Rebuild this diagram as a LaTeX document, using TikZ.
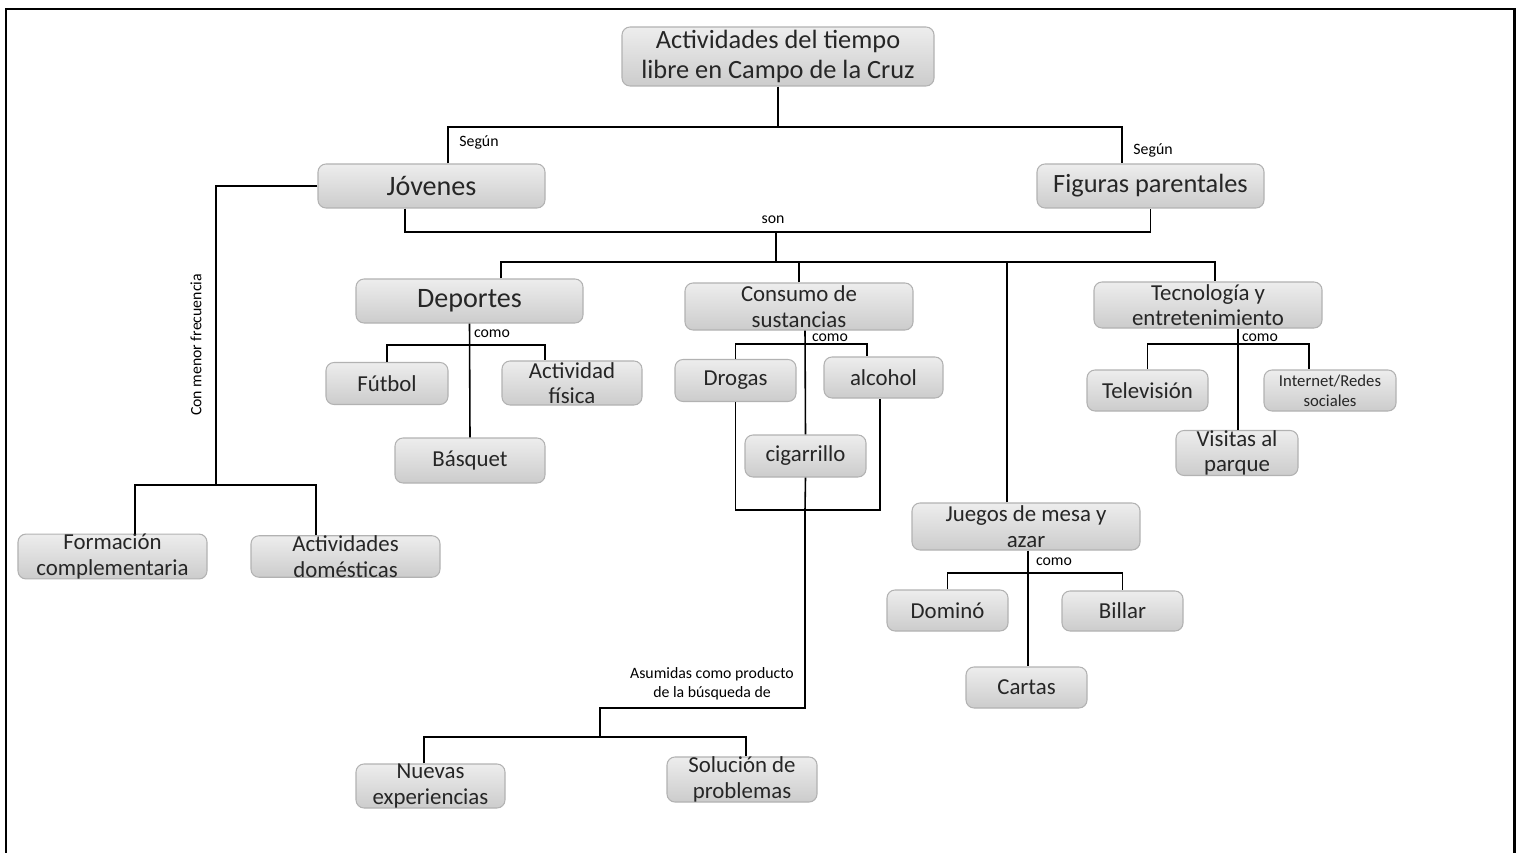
\documentclass[tikz,border=0pt]{standalone}
\usepackage{fontspec}
\setmainfont{Carlito}
\definecolor{boxtext}{HTML}{262626}
\begin{document}
\begin{tikzpicture}[x=0.2mm, y=-0.2mm, line width=0.9pt,
    box/.style={draw=gray!60, line width=0.6pt, rounded corners=1.6mm, top color=gray!14, bottom color=gray!40,
      text=boxtext, align=center, inner sep=0pt, minimum width=24.2mm, minimum height=8.4mm},
    big/.style={font=\fontsize{16}{18}\selectfont},
    head/.style={font=\fontsize{15}{17}\selectfont},
    mid/.style={font=\fontsize{13}{14.5}\selectfont},
    lbl/.style={font=\fontsize{9}{10.5}\selectfont, inner sep=0.5pt, align=center}]
  \useasboundingbox (0,0) rectangle (1522,853);

  % Main concept
  \node[box, head, minimum width=62.4mm, minimum height=11.8mm] (title) at (778,56.5) {Actividades del tiempo\\libre en Campo de la Cruz};
  \node[box, big, minimum width=45.4mm, minimum height=8.8mm] (jov) at (431.5,186) {Jóvenes};
  \node[box, head, minimum width=45.4mm, minimum height=8.8mm] (fig) at (1150.5,186) {Figuras parentales};

  % Activities
  \node[box, big, minimum width=45.4mm, minimum height=8.8mm] (dep) at (469.5,301) {Deportes};
  \node[box, mid, minimum width=45.6mm, minimum height=9.4mm] (cons) at (799,306.5) {Consumo de\\sustancias};
  \node[box, mid, minimum width=45.6mm, minimum height=9.2mm] (tec) at (1208,305) {Tecnología y\\entretenimiento};
  \node[box, mid, minimum width=45.6mm, minimum height=9.4mm] (jue) at (1026,526.5) {Juegos de mesa y\\azar};

  % Sports
  \node[box, mid, minimum width=24.4mm] (fut) at (387,383.5) {Fútbol};
  \node[box, mid, minimum width=28mm, minimum height=8.8mm] (act) at (572,383) {Actividad\\física};
  \node[box, mid, minimum width=30mm, minimum height=9mm] (basq) at (470,460.5) {Básquet};

  % Substances
  \node[box, mid] (drog) at (735.5,380.5) {Drogas};
  \node[box, mid, minimum width=23.8mm, minimum height=8.2mm] (alc) at (883.5,377.5) {alcohol};
  \node[box, mid] (cig) at (805.5,456) {cigarrillo};
  \node[box, mid, minimum width=29.8mm, minimum height=8.8mm] (nuev) at (430.5,786) {Nuevas\\experiencias};
  \node[box, mid, minimum width=30mm, minimum height=9mm] (sol) at (742,779.5) {Solución de\\problemas};

  % Technology
  \node[box, mid, minimum height=8.2mm] (tele) at (1147.5,390.5) {Televisión};
  \node[box, font=\fontsize{9.5}{11.5}\selectfont, minimum width=26.4mm, minimum height=8.2mm] (inter) at (1330,390.5) {Internet/Redes\\sociales};
  \node[box, mid, minimum width=24.4mm] (vis) at (1237,453) {Visitas al\\parque};

  % Games
  \node[box, mid, minimum height=8.2mm] (dom) at (947.5,610.5) {Dominó};
  \node[box, mid, minimum height=8mm] (bil) at (1122.5,611) {Billar};
  \node[box, mid, minimum height=8.2mm] (cart) at (1026.5,687.5) {Cartas};

  % Less frequent
  \node[box, mid, minimum width=37.8mm, minimum height=8.2mm] (form) at (112.5,556.5) {Formación\\complementaria};
  \node[box, mid, minimum width=37.8mm, minimum height=8.2mm] (domest) at (345.5,556.5) {Actividades\\domésticas};

  % Junctions
  \coordinate (t1) at (778,127);
  \coordinate (s1) at (776,232);
  \coordinate (s2) at (776,262);
  \coordinate (d1) at (469,345);
  \coordinate (c1) at (805,344);
  \coordinate (c2) at (805,510);
  \coordinate (c3) at (600,708);
  \coordinate (c4) at (600,737);
  \coordinate (e1) at (1238,344);
  \coordinate (g1) at (1028,573);
  \coordinate (y1) at (216,485);

  % Connectors
  \draw (title.south) -- (t1);
  \draw ([xshift=3.3mm]jov.north) |- (t1) -| ([xshift=-5.7mm]fig.north);
  \draw ([xshift=-5.3mm]jov.south) |- (s1) -| (fig.south);
  \draw (s1) -- (s2);
  \draw ([xshift=6.3mm]dep.north) |- (s2) -| ([xshift=1.4mm]tec.north);
  \draw (cons.north) -- (cons.north |- s2);
  \draw ([xshift=-3.8mm]jue.north) -- ([xshift=-3.8mm]jue.north |- s2);

  \draw (dep.south) -- (basq.north);
  \draw (fut.north) |- (d1) -| ([xshift=-5.4mm]act.north);

  \draw ([xshift=1.2mm]cons.south) -- (cig.north);
  \draw (drog.north) |- (c1) -| ([xshift=-3.3mm]alc.north);
  \draw (drog.south) |- (c2) -| ([xshift=-0.7mm]alc.south);
  \draw (cig.south) -- (c2) |- (c3) -- (c4);
  \draw ([xshift=-1.3mm]nuev.north) |- (c4) -| ([xshift=0.8mm]sol.north);

  \draw ([xshift=6mm]tec.south) -- ([xshift=6mm]tec.south |- vis.north);
  \draw (tele.north) |- (e1) -| ([xshift=-4.2mm]inter.north);

  \draw ([xshift=0.4mm]jue.south) -- ([xshift=0.4mm]jue.south |- cart.north);
  \draw (dom.north) |- (g1) -| (bil.north);

  \draw (jov.west) -| (y1);
  \draw ([xshift=4.5mm]form.north) |- (y1) -| ([xshift=-5.9mm]domest.north);

  % Labels
  \node[lbl] (seg1) at (479,142) {Según};
  \node[lbl] (seg2) at (1153,150) {Según};
  \node[lbl] (son) at (773,220) {son};
  \node[lbl] (como1) at (492,334) {como};
  \node[lbl] (como2) at (830,338) {como};
  \node[lbl] (como3) at (1260,337.5) {como};
  \node[lbl] (como4) at (1054,562) {como};
  \node[lbl, rotate=90] (menor) at (196,345) {Con menor frecuencia};
  \node[lbl] (asum) at (712,684) {Asumidas como producto\\de la búsqueda de};

  % Frame
  \draw[line width=1.7pt] (6,853) -- (6,9) -- (1514,9) -- (1514,853);
\end{tikzpicture}
\end{document}
